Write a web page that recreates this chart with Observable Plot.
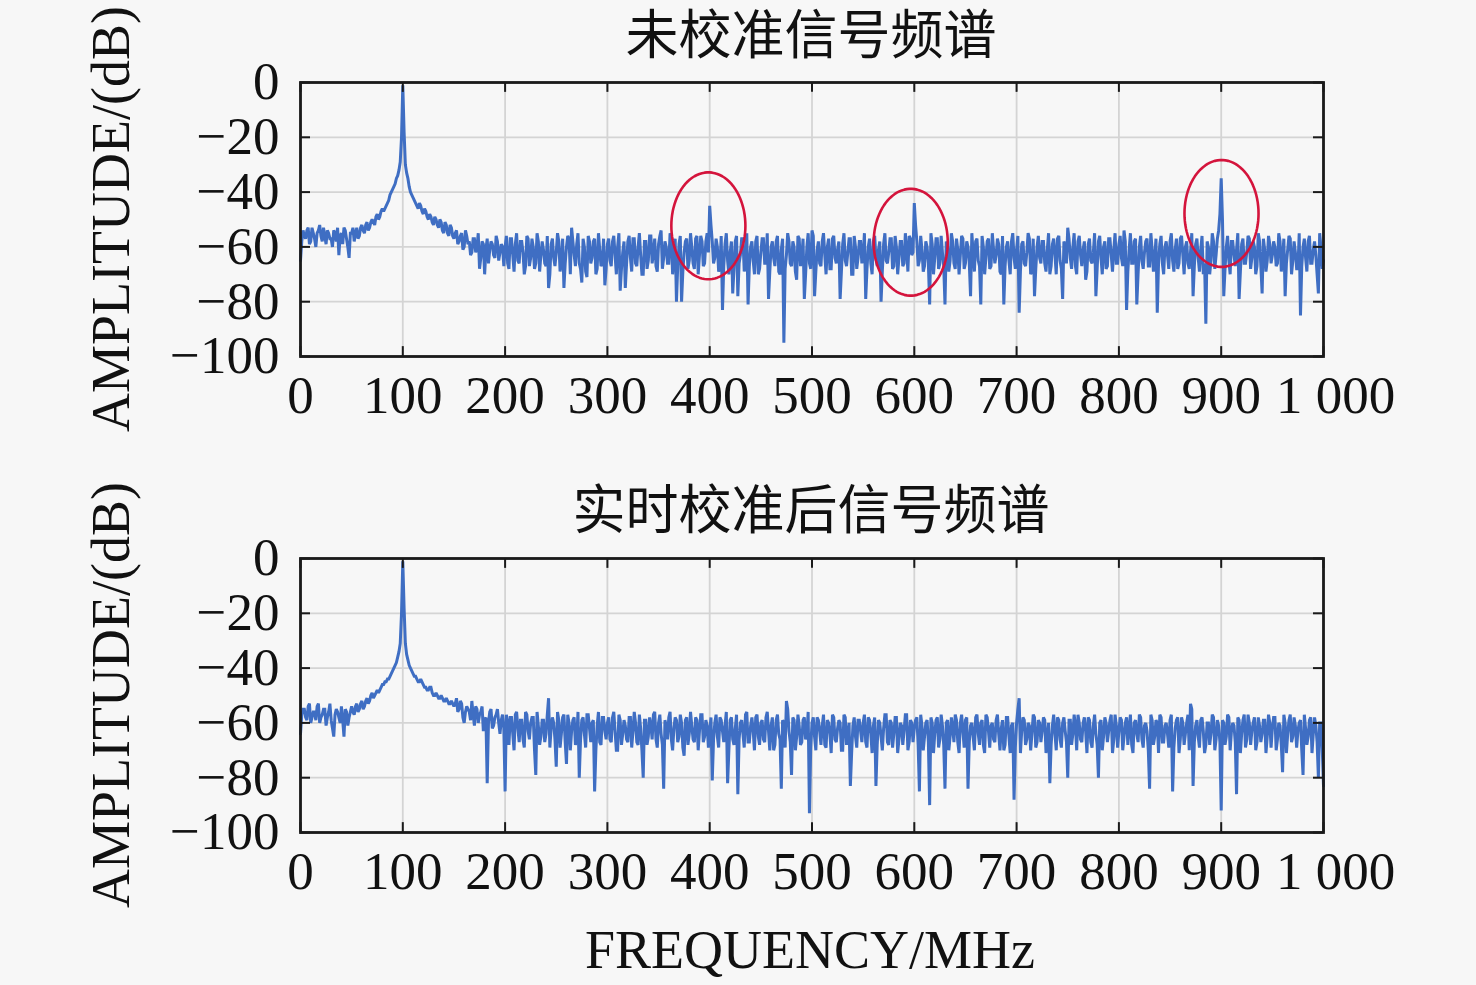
<!DOCTYPE html>
<html><head><meta charset="utf-8">
<script src="https://cdn.jsdelivr.net/npm/d3@7"></script>
<script src="https://cdn.jsdelivr.net/npm/@observablehq/plot@0.6"></script>
<style>
html,body{margin:0;padding:0;background:#f7f7f7;}
#root{position:relative;width:1476px;height:985px;overflow:hidden;background:#f7f7f7;}
.panel{position:absolute;left:0;}
.t{position:absolute;white-space:nowrap;line-height:1;transform:translate(-50%,-50%);color:#111;}
.cn{font-family:"Noto Sans CJK SC",sans-serif;font-size:53px;}
.lat{font-family:"Liberation Serif","Times New Roman",serif;font-size:54px;}
.rot{transform:translate(-50%,-50%) rotate(-90deg);}
</style></head><body><div id="root"></div>
<script>
// frequency grid: main samples every 2.5 MHz (0..1000), half samples at 1.25 + 2.5k MHz
const STEP = 2.5;
// Uncalibrated spectrum (dB), main samples
const uncalibrated = [
-65,-54,-57,-53,-58,-55,-60,-54,-56,-53,-59,-55,-57,-54,-58,-63,-55,-53,-57,-64,
-55,-58,-53,-56,-52,-55,-51,-53,-50,-52,-48,-49,-46,-46,-44,-41,-39,-37,-34,-29,
-1,-30,-35,-40,-42,-44,-46,-45,-48,-47,-50,-49,-52,-50,-53,-51,-55,-52,-56,-53,
-57,-54,-58,-55,-60,-56,-58,-62,-57,-60,-68,-58,-70,-57,-61,-59,-64,-58,-62,-60,
-60,-66,-57,-63,-59,-65,-58,-62,-67,-57,-64,-60,-66,-58,-63,-61,-67,-75,-59,-64,
-62,-58,-66,-75,-60,-57,-53,-63,-59,-66,-73,-60,-71,-58,-64,-57,-68,-61,-66,-74,
-59,-65,-58,-63,-60,-76,-62,-75,-58,-64,-57,-66,-60,-63,-70,-58,-65,-56,-62,-67,
-59,-54,-64,-60,-66,-57,-63,-80,-59,-80,-62,-57,-65,-60,-68,-56,-63,-58,-66,-55,
-45,-58,-64,-60,-67,-83,-59,-65,-62,-77,-58,-78,-63,-57,-66,-81,-60,-65,-58,-70,
-62,-57,-66,-79,-60,-64,-58,-69,-61,-95,-63,-58,-67,-60,-72,-57,-64,-79,-60,-66,
-54,-78,-61,-66,-58,-63,-60,-68,-57,-64,-61,-79,-59,-65,-62,-57,-70,-60,-64,-58,
-63,-79,-60,-66,-58,-64,-61,-80,-59,-65,-62,-57,-67,-60,-64,-58,-66,-61,-56,-63,
-44,-58,-65,-61,-67,-60,-81,-59,-64,-57,-66,-62,-81,-60,-65,-58,-68,-61,-63,-57,
-66,-60,-78,-62,-58,-65,-81,-60,-64,-57,-67,-61,-63,-59,-70,-81,-60,-65,-58,-64,
-61,-84,-59,-66,-62,-57,-68,-78,-60,-64,-58,-66,-61,-70,-59,-63,-57,-65,-79,-60,
-53,-64,-60,-67,-58,-63,-61,-72,-59,-65,-62,-78,-58,-64,-60,-68,-57,-63,-61,-66,
-59,-64,-54,-83,-61,-66,-58,-81,-60,-65,-62,-57,-67,-61,-64,-84,-59,-66,-60,-63,
-58,-65,-61,-68,-57,-63,-60,-66,-62,-78,-59,-64,-61,-70,-88,-60,-65,-58,-63,-54,
-35,-78,-60,-65,-58,-63,-61,-79,-59,-66,-62,-57,-64,-60,-67,-58,-77,-61,-65,-59,
-63,-60,-66,-58,-64,-78,-61,-57,-65,-62,-68,-85,-60,-64,-58,-66,-61,-63,-77,-60,-65
];
// Uncalibrated spectrum (dB), half samples
const uncalibratedHalf = [
-58,-56,-54,-59,-53,-57,-55,-52,-58,-56,-54,-57,-60,-55,-53,-56,-59,-54,-60,-55,
-53,-55,-57,-53,-54,-52,-54,-51,-51,-49,-50,-47,-47,-45,-43,-40,-38,-35,-32,-20,
-18,-33,-38,-41,-43,-45,-44,-47,-46,-49,-48,-51,-49,-52,-50,-54,-51,-55,-52,-56,
-55,-59,-56,-61,-54,-59,-63,-57,-62,-55,-64,-59,-61,-66,-58,-63,-56,-65,-59,-67,
-56,-68,-57,-69,-55,-66,-58,-70,-56,-67,-57,-68,-55,-69,-58,-66,-56,-70,-57,-67,
-55,-69,-57,-66,-56,-70,-58,-67,-55,-68,-57,-69,-56,-66,-58,-70,-55,-67,-57,-68,
-57,-67,-56,-70,-55,-68,-58,-66,-56,-69,-57,-67,-55,-70,-58,-68,-56,-66,-57,-69,
-56,-68,-58,-66,-55,-70,-57,-67,-56,-69,-58,-68,-55,-66,-57,-70,-56,-67,-58,-62,
-52,-66,-57,-69,-56,-67,-55,-70,-58,-68,-56,-66,-57,-69,-55,-67,-58,-70,-56,-68,
-57,-66,-55,-69,-58,-67,-56,-70,-57,-68,-55,-66,-58,-69,-56,-67,-57,-70,-55,-68,
-56,-69,-58,-67,-55,-70,-57,-68,-56,-66,-58,-69,-55,-67,-57,-70,-56,-68,-58,-66,
-55,-68,-57,-70,-56,-67,-58,-69,-55,-66,-57,-68,-56,-70,-58,-67,-55,-69,-57,-62,
-52,-67,-56,-69,-58,-66,-55,-70,-57,-68,-56,-67,-58,-69,-55,-66,-57,-70,-56,-68,
-58,-66,-55,-69,-57,-67,-56,-70,-58,-68,-55,-66,-57,-69,-56,-67,-58,-70,-55,-68,
-56,-69,-58,-67,-55,-70,-57,-68,-56,-66,-58,-69,-55,-67,-57,-70,-56,-68,-58,-66,
-57,-68,-55,-70,-56,-67,-58,-69,-57,-66,-55,-68,-56,-70,-58,-67,-57,-69,-55,-66,
-56,-67,-58,-69,-55,-66,-57,-70,-56,-68,-58,-67,-55,-69,-57,-66,-56,-70,-58,-68,
-55,-69,-57,-66,-56,-70,-58,-68,-55,-67,-57,-69,-56,-66,-58,-70,-55,-68,-57,-48,
-50,-68,-56,-70,-58,-67,-55,-69,-57,-66,-56,-68,-58,-70,-55,-67,-57,-69,-56,-66,
-58,-67,-55,-69,-57,-66,-56,-70,-58,-68,-55,-67,-57,-69,-56,-66,-58,-70,-55,-68
];
// Real-time calibrated spectrum (dB), main samples
const calibrated = [
-64,-55,-58,-54,-60,-56,-59,-53,-58,-55,-61,-56,-59,-65,-55,-58,-54,-65,-56,-58,
-54,-57,-53,-55,-52,-54,-51,-52,-49,-50,-48,-48,-46,-45,-44,-43,-41,-39,-36,-31,
-1,-31,-37,-40,-42,-43,-45,-44,-46,-47,-48,-47,-50,-49,-51,-50,-52,-51,-53,-52,
-54,-51,-55,-53,-60,-54,-56,-52,-61,-55,-57,-54,-59,-82,-56,-62,-58,-55,-64,-57,
-85,-60,-58,-64,-57,-62,-59,-66,-56,-63,-60,-58,-79,-61,-65,-59,-64,-51,-62,-60,
-76,-59,-64,-57,-75,-60,-63,-58,-66,-80,-59,-64,-57,-62,-60,-85,-61,-67,-58,-63,
-60,-66,-58,-63,-70,-59,-64,-61,-67,-58,-63,-60,-68,-62,-80,-59,-65,-61,-57,-66,
-60,-64,-84,-61,-58,-66,-62,-59,-65,-60,-72,-58,-64,-61,-67,-59,-63,-57,-65,-61,
-63,-81,-60,-65,-58,-63,-61,-82,-59,-66,-62,-86,-60,-64,-57,-67,-61,-63,-58,-65,
-60,-66,-58,-63,-61,-70,-59,-64,-84,-60,-52,-63,-79,-59,-65,-61,-67,-58,-64,-93,
-60,-65,-58,-63,-61,-68,-59,-64,-57,-66,-62,-60,-70,-58,-64,-83,-61,-65,-59,-63,
-60,-67,-58,-64,-61,-83,-59,-65,-62,-57,-68,-60,-64,-58,-66,-61,-63,-57,-67,-60,
-62,-58,-85,-61,-65,-59,-90,-60,-64,-58,-66,-61,-84,-59,-65,-62,-57,-67,-60,-63,
-59,-84,-61,-65,-58,-64,-60,-68,-57,-63,-61,-66,-59,-64,-62,-70,-58,-65,-61,-88,
-60,-51,-63,-59,-66,-61,-64,-58,-67,-60,-63,-59,-65,-82,-61,-64,-58,-66,-60,-63,
-80,-59,-64,-61,-57,-66,-60,-63,-58,-67,-61,-64,-80,-59,-65,-60,-63,-57,-66,-61,
-63,-59,-65,-58,-62,-68,-60,-64,-57,-66,-61,-63,-84,-59,-65,-60,-57,-67,-61,-64,
-59,-85,-62,-58,-66,-60,-64,-57,-53,-83,-61,-65,-59,-63,-68,-60,-64,-58,-66,-61,
-92,-60,-65,-58,-63,-61,-86,-59,-64,-57,-66,-60,-63,-58,-67,-61,-64,-59,-65,-60,
-62,-58,-66,-61,-78,-60,-64,-57,-65,-61,-63,-59,-79,-62,-65,-58,-64,-61,-80,-60,-83
];
// Real-time calibrated spectrum (dB), half samples
const calibratedHalf = [
-57,-55,-59,-53,-58,-56,-54,-60,-57,-55,-58,-53,-62,-57,-56,-60,-59,-55,-61,-56,
-56,-54,-56,-53,-55,-52,-53,-50,-51,-49,-49,-47,-46,-45,-44,-42,-40,-38,-34,-20,
-18,-35,-39,-41,-43,-44,-45,-45,-47,-48,-47,-49,-50,-50,-51,-51,-52,-52,-53,-53,
-53,-56,-52,-58,-56,-55,-59,-57,-54,-60,-56,-63,-58,-60,-55,-61,-57,-60,-59,-62,
-57,-68,-58,-70,-56,-67,-59,-69,-57,-66,-58,-70,-56,-68,-59,-67,-57,-69,-58,-66,
-56,-69,-58,-67,-57,-70,-59,-68,-56,-66,-58,-69,-57,-67,-59,-70,-56,-68,-58,-66,
-58,-67,-56,-70,-57,-68,-59,-66,-58,-69,-56,-67,-57,-70,-59,-68,-58,-66,-56,-69,
-57,-68,-59,-66,-56,-70,-58,-67,-57,-69,-59,-68,-56,-66,-58,-70,-57,-67,-59,-69,
-58,-66,-57,-69,-59,-67,-56,-70,-58,-68,-57,-66,-59,-69,-56,-67,-58,-70,-57,-68,
-59,-67,-56,-70,-58,-68,-57,-66,-59,-69,-55,-67,-58,-70,-57,-68,-59,-66,-56,-69,
-58,-70,-59,-68,-57,-69,-60,-71,-58,-67,-59,-70,-57,-68,-60,-71,-58,-69,-59,-67,
-57,-69,-59,-71,-58,-68,-60,-70,-57,-67,-59,-69,-58,-71,-60,-68,-57,-70,-59,-67,
-59,-68,-57,-70,-60,-67,-58,-71,-59,-69,-57,-68,-60,-70,-58,-67,-59,-71,-57,-69,
-58,-67,-60,-70,-57,-68,-59,-71,-58,-69,-60,-67,-57,-70,-59,-68,-58,-71,-60,-69,
-55,-71,-58,-68,-60,-70,-57,-69,-59,-67,-58,-71,-60,-68,-57,-70,-59,-69,-58,-67,
-59,-68,-57,-70,-60,-67,-58,-71,-59,-69,-57,-68,-60,-70,-58,-67,-59,-71,-57,-69,
-58,-70,-60,-68,-57,-71,-59,-67,-58,-69,-60,-70,-57,-68,-59,-71,-58,-67,-60,-69,
-57,-69,-59,-71,-58,-68,-60,-70,-55,-67,-59,-69,-58,-71,-60,-68,-57,-70,-59,-67,
-59,-68,-57,-70,-60,-67,-58,-71,-59,-69,-57,-68,-60,-70,-58,-67,-59,-71,-57,-69,
-58,-70,-60,-68,-57,-71,-59,-67,-58,-69,-60,-70,-57,-68,-59,-71,-58,-67,-60,-69
];
const xTicks = [0,100,200,300,400,500,600,700,800,900,1000];
const yTicks = [-100,-80,-60,-40,-20,0];
// red ellipse annotations around spurs (center MHz, center dB, half-width MHz, half-height dB)
const spurCircles = [
  {f:398.7, db:-52.3, rf:36.2, rdb:19.5},
  {f:596.5, db:-58.3, rf:36.2, rdb:19.5},
  {f:900.3, db:-47.8, rf:36.2, rdb:19.5}
];
const titles = ["未校准信号频谱","实时校准后信号频谱"];
const yLabel = "AMPLITUDE/(dB)";
const xLabel = "FREQUENCY/MHz";

const FONT = '"Liberation Serif","Times New Roman",serif';
const TICK_DB = 3.6, TICK_MHZ = 9.8; // inward tick length (~10 px)
const fmtX = d => d === 1000 ? "1 000" : String(d);
const fmtY = d => d < 0 ? "\u2212" + Math.abs(d) : String(d);

function merge(main, half) {
  const out = [];
  main.forEach((v, i) => {
    out.push({f: i * STEP, v});
    if (i < half.length && i < main.length - 1) out.push({f: i * STEP + STEP / 2, v: half[i]});
  });
  return out;
}

function ellipsePoints(circles) {
  const pts = [];
  circles.forEach((c, k) => {
    for (let a = 0; a < 360; a += 4) {
      const t = a * Math.PI / 180;
      pts.push({k, f: c.f + c.rf * Math.cos(t), v: c.db + c.rdb * Math.sin(t)});
    }
  });
  return pts;
}

function panel(data, circles, height, marginBottom) {
  const marks = [
    Plot.gridX(xTicks, {stroke:"#d4d4d4", strokeOpacity:1, strokeWidth:1.8}),
    Plot.gridY(yTicks, {stroke:"#d4d4d4", strokeOpacity:1, strokeWidth:1.8}),
    Plot.line(data, {x:"f", y:"v", stroke:"#3f6ec3", strokeWidth:3, strokeLinejoin:"miter", strokeMiterlimit:2}),
    Plot.ruleX(xTicks, {x:d=>d, y1:-100, y2:-100+TICK_DB, stroke:"#1a1a1a", strokeWidth:2}),
    Plot.ruleX(xTicks, {x:d=>d, y1:0, y2:-TICK_DB, stroke:"#1a1a1a", strokeWidth:2}),
    Plot.ruleY(yTicks, {y:d=>d, x1:0, x2:TICK_MHZ, stroke:"#1a1a1a", strokeWidth:2}),
    Plot.ruleY(yTicks, {y:d=>d, x1:1000, x2:1000-TICK_MHZ, stroke:"#1a1a1a", strokeWidth:2}),
    Plot.frame({stroke:"#1a1a1a", strokeWidth:2.8}),
    Plot.axisX(xTicks.slice(0, -1), {tickSize:0, tickPadding:19, fontSize:53, tickFormat:fmtX, label:null}),
    Plot.axisX(xTicks.slice(-1), {tickSize:0, tickPadding:19, fontSize:53, tickFormat:fmtX, label:null, dx:12}),
    Plot.axisY(yTicks, {tickSize:0, tickPadding:21, fontSize:53, tickFormat:fmtY, label:null})
  ];
  if (circles) marks.push(Plot.line(ellipsePoints(circles), {x:"f", y:"v", z:"k", curve:"linear-closed", stroke:"#d4143c", strokeWidth:2.6}));
  return Plot.plot({
    width:1476, height,
    marginLeft:300, marginRight:153, marginTop:82, marginBottom,
    x:{domain:[0,1000], label:null},
    y:{domain:[-100,0], label:null},
    style:{fontFamily:FONT, background:"transparent", color:"#111", overflow:"visible"},
    marks
  });
}

const root = document.getElementById("root");
const p1 = panel(merge(uncalibrated, uncalibratedHalf), spurCircles, 476, 120);
p1.classList.add("panel"); p1.style.top = "0px";
root.appendChild(p1);
const p2 = panel(merge(calibrated, calibratedHalf), null, 509, 153);
p2.classList.add("panel"); p2.style.top = "476px";
root.appendChild(p2);

function addText(txt, cls, x, y) {
  const d = document.createElement("div");
  d.className = "t " + cls;
  d.textContent = txt;
  d.style.left = x + "px"; d.style.top = y + "px";
  root.appendChild(d);
}
addText(titles[0], "cn", 811, 31);
addText(titles[1], "cn", 811, 506);
addText(yLabel, "lat rot", 111, 219);
addText(yLabel, "lat rot", 111, 695);
addText(xLabel, "lat", 810, 950);
</script></body></html>
